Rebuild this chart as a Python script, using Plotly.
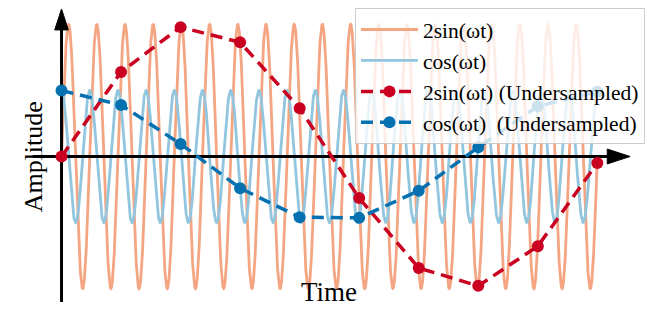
import numpy as np
import plotly.graph_objects as go

# ---- data ----
sample_t = [0, 1, 2, 3, 4, 5, 6, 7, 8, 9]
sin_samples = [0.0, 1.28, 1.96, 1.73, 0.73, -0.63, -1.69, -1.96, -1.36, -0.10]
cos_samples = [1.0, 0.78, 0.19, -0.48, -0.92, -0.93, -0.52, 0.14, 0.76, 0.98]
sin_amp = 2.0          # 2sin(wt)
cos_amp = 1.0          # cos(wt)
n_cycles = 19          # cycles of the fast signal counted over the sampled span
labels = ["2sin(ωt)", "cos(ωt)", "2sin(ωt) (Undersampled)", "cos(ωt)  (Undersampled)"]

t_cont = np.linspace(sample_t[0], sample_t[-1], 3000)
w = 2 * np.pi * n_cycles / (sample_t[-1] - sample_t[0])
sin_cont = sin_amp * np.sin(w * t_cont)
cos_cont = cos_amp * np.cos(w * t_cont)

ORANGE = "#F4A582"
LBLUE = "#92C5DE"
RED = "#CA0020"
BLUE = "#0571B0"
FONT = "Liberation Serif"

fig = go.Figure()
fig.add_trace(go.Scatter(x=t_cont, y=sin_cont, mode="lines", name=labels[0],
                         line=dict(color=ORANGE, width=2.8)))
fig.add_trace(go.Scatter(x=t_cont, y=cos_cont, mode="lines", name=labels[1],
                         line=dict(color=LBLUE, width=2.8)))

# axis lines with arrowheads (drawn between the continuous and sampled series)
arrow_marker = dict(symbol="arrow", angleref="previous", color="black", opacity=1,
                    line=dict(width=1, color="black"))
fig.add_trace(go.Scatter(x=[-0.483, 9.55], y=[0, 0], mode="lines+markers", showlegend=False,
                         line=dict(color="black", width=3), hoverinfo="skip",
                         marker=dict(arrow_marker, size=[0, 24])))
fig.add_trace(go.Scatter(x=[0, 0], y=[-2.205, 2.235], mode="lines+markers", showlegend=False,
                         line=dict(color="black", width=3), hoverinfo="skip",
                         marker=dict(arrow_marker, size=[0, 22])))

fig.add_trace(go.Scatter(x=sample_t, y=sin_samples, mode="lines+markers", name=labels[2],
                         line=dict(color=RED, width=3.5, dash="12px,7px"),
                         marker=dict(color=RED, size=12)))
fig.add_trace(go.Scatter(x=sample_t, y=cos_samples, mode="lines+markers", name=labels[3],
                         line=dict(color=BLUE, width=3.5, dash="12px,7px"),
                         marker=dict(color=BLUE, size=12)))

fig.update_layout(
    width=645, height=324,
    margin=dict(l=0, r=0, t=0, b=0),
    paper_bgcolor="white", plot_bgcolor="white",
    font=dict(family=FONT, color="black"),
    xaxis=dict(range=[-1.0333, 9.7167], visible=False),
    yaxis=dict(range=[-2.538, 2.371], visible=False),
    legend=dict(x=358 / 645, y=1 - 8 / 324, xanchor="left", yanchor="top",
                font=dict(family=FONT, size=21.5, color="black"),
                bgcolor="rgba(255,255,255,0.8)", bordercolor="#cccccc", borderwidth=1,
                itemwidth=57, tracegroupgap=0),
    annotations=[
        dict(text="Amplitude", x=18 / 645, y=1 - 157 / 324, xref="paper", yref="paper",
             showarrow=False, textangle=-90, font=dict(family=FONT, size=26, color="black")),
        dict(text="Time", x=332 / 645, y=1 - 309 / 324, xref="paper", yref="paper",
             showarrow=False, font=dict(family=FONT, size=27, color="black")),
    ],
)

fig.write_html("out.html")
